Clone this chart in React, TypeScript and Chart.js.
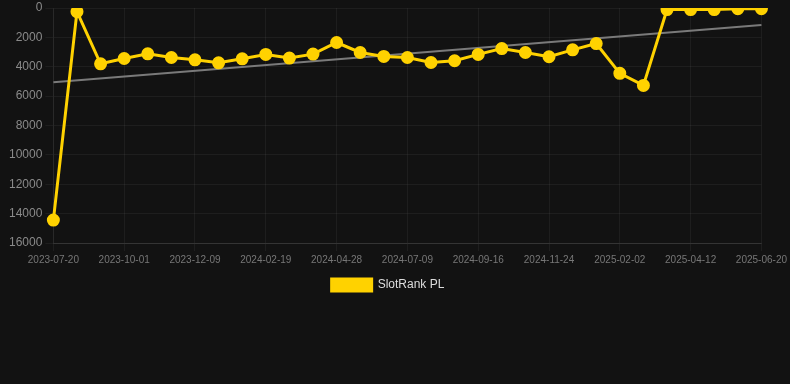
import React, { useEffect, useRef } from "react";
import { Chart, registerables } from "chart.js";

Chart.register(...registerables);

const labels = [
  "2023-07-20", "2023-08-13", "2023-09-07", "2023-10-01", "2023-10-24", "2023-11-16",
  "2023-12-09", "2024-01-01", "2024-01-26", "2024-02-19", "2024-03-14", "2024-04-05",
  "2024-04-28", "2024-05-22", "2024-06-15", "2024-07-09", "2024-08-01", "2024-08-24",
  "2024-09-16", "2024-10-09", "2024-11-01", "2024-11-24", "2024-12-17", "2025-01-09",
  "2025-02-02", "2025-02-25", "2025-03-20", "2025-04-12", "2025-05-05", "2025-05-28",
  "2025-06-20",
];

const slotRankPL = [
  14440, 250, 3800, 3440, 3120, 3370, 3530, 3730, 3460, 3160, 3410, 3140,
  2350, 3030, 3300, 3370, 3710, 3590, 3160, 2760, 3030, 3320, 2850, 2420,
  4450, 5270, 110, 110, 110, 50, 50,
];

const trendStart = 5060;
const trendEnd = 1150;
const trend = labels.map((_, i) => (i === 0 ? trendStart : i === labels.length - 1 ? trendEnd : null));

export default function App() {
  const ref = useRef<HTMLCanvasElement>(null);
  useEffect(() => {
    document.body.style.margin = "0";
    document.body.style.background = "#121212";
    const chart = new Chart(ref.current!, {
      type: "line",
      data: {
        labels,
        datasets: [
          {
            label: "SlotRank PL",
            data: slotRankPL,
            borderColor: "#ffd200",
            backgroundColor: "#ffd200",
            borderWidth: 3,
            pointRadius: 5,
            pointHoverRadius: 5,
            pointBackgroundColor: "#ffd200",
            pointBorderColor: "#ffd200",
            tension: 0,
          },
          {
            label: "trend",
            data: trend,
            borderColor: "#7a7a7a",
            backgroundColor: "#7a7a7a",
            borderWidth: 2,
            pointRadius: 0,
            spanGaps: true,
          },
        ],
      },
      options: {
        animation: false,
        responsive: false,
        maintainAspectRatio: false,
        layout: { padding: { left: 6, right: 20, top: 0, bottom: 0 } },
        scales: {
          x: {
            offset: false,
            grid: { color: "rgba(255,255,255,0.05)", tickLength: 8 },
            border: { color: "rgba(255,255,255,0.1)" },
            ticks: {
              color: "#777",
              font: { size: 10, family: "Liberation Sans, Arial, sans-serif" },
              autoSkip: true,
              maxTicksLimit: 11,
              maxRotation: 0,
              minRotation: 0,
            },
          },
          y: {
            reverse: true,
            min: 0,
            max: 16000,
            grid: { color: "rgba(255,255,255,0.05)", tickLength: 8 },
            border: { color: "rgba(255,255,255,0.05)" },
            ticks: {
              stepSize: 2000,
              color: "#8a8a8a",
              font: { size: 12, family: "Liberation Sans, Arial, sans-serif", lineHeight: 0.55 },
              callback: (v) => String(v),
            },
          },
        },
        plugins: {
          legend: {
            position: "bottom",
            labels: {
              color: "#ddd",
              boxWidth: 40,
              boxHeight: 12,
              font: { size: 12, family: "Liberation Sans, Arial, sans-serif" },
              filter: (item) => item.text !== "trend",
            },
          },
          tooltip: { enabled: false },
        },
      },
    });
    return () => chart.destroy();
  }, []);
  return (
    <div style={{ width: 790, height: 384, background: "#121212" }}>
      <canvas ref={ref} width={790} height={301} style={{ display: "block" }} />
    </div>
  );
}
